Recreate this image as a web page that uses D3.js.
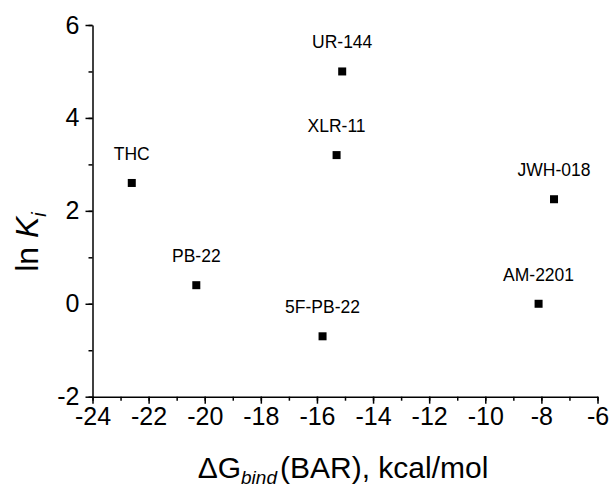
<!DOCTYPE html>
<html>
<head>
    <meta charset="utf-8">
    <title>ln Ki vs dG bind</title>
    <script src="https://d3js.org/d3.v7.min.js"></script>
    <style>
        body { margin: 0; background: #fff; }
        text { font-family: "Liberation Sans", Arial, sans-serif; fill: #000; }
        .axis path, .axis line { stroke: #000; stroke-width: 1.5; }
    </style>
</head>
<body>
    <svg id="plot" width="610" height="488"></svg>

    <script>
        // data
        const compounds = ['THC', 'PB-22', '5F-PB-22', 'XLR-11', 'UR-144', 'AM-2201', 'JWH-018'];
        const dGbind = [-22.6, -20.3, -15.8, -15.3, -15.1, -8.1, -7.55];
        const lnKi = [2.6, 0.4, -0.7, 3.2, 5.0, 0.0, 2.25];
        const xTicks = [-24, -22, -20, -18, -16, -14, -12, -10, -8, -6];
        const yTicks = [-2, 0, 2, 4, 6];

        const svg = d3.select('#plot');

        const xScale = d3.scaleLinear().domain([-24, -6]).range([92.5, 597.5]);
        const yScale = d3.scaleLinear().domain([-2, 6]).range([396.7, 25]);

        // plain hyphen for negatives, like the original
        const fmt = d => String(d);

        // minor ticks first
        svg.append('g')
            .attr('class', 'axis')
            .attr('transform', 'translate(0,' + yScale(-2) + ')')
            .call(d3.axisBottom(xScale).tickValues(d3.range(-24, -5, 1)).tickSize(4).tickFormat(''))
            .call(g => g.select('.domain').remove());

        svg.append('g')
            .attr('class', 'axis')
            .attr('transform', 'translate(' + xScale(-24) + ',0)')
            .call(d3.axisLeft(yScale).tickValues(d3.range(-2, 7, 1)).tickSize(4).tickFormat(''))
            .call(g => g.select('.domain').remove());

        // major ticks + labels
        const xAxis = svg.append('g')
            .attr('class', 'axis')
            .attr('transform', 'translate(0,' + yScale(-2) + ')')
            .call(d3.axisBottom(xScale).tickValues(xTicks).tickFormat(fmt)
                .tickSizeInner(7).tickSizeOuter(0).tickPadding(4));
        xAxis.selectAll('text').style('font-size', '25px');

        const yAxis = svg.append('g')
            .attr('class', 'axis')
            .attr('transform', 'translate(' + xScale(-24) + ',0)')
            .call(d3.axisLeft(yScale).tickValues(yTicks).tickFormat(fmt)
                .tickSizeInner(7).tickSizeOuter(0).tickPadding(6));
        yAxis.selectAll('text').style('font-size', '25px');

        // points
        const pts = compounds.map((c, i) => ({ name: c, x: dGbind[i], y: lnKi[i] }));

        svg.selectAll('rect.pt')
            .data(pts)
            .enter()
            .append('rect')
            .attr('class', 'pt')
            .attr('x', d => xScale(d.x) - 4)
            .attr('y', d => yScale(d.y) - 4)
            .attr('width', 8)
            .attr('height', 8)
            .style('fill', '#000');

        // labels above each point
        svg.selectAll('text.lbl')
            .data(pts)
            .enter()
            .append('text')
            .attr('class', 'lbl')
            .attr('x', d => xScale(d.x))
            .attr('y', d => yScale(d.y) - 23)
            .attr('text-anchor', 'middle')
            .style('font-size', '17.5px')
            .text(d => d.name);

        // x axis title
        const xt = svg.append('text')
            .attr('x', (xScale(-24) + xScale(-6)) / 2 - 2)
            .attr('y', 478)
            .attr('text-anchor', 'middle')
            .style('font-size', '30px');
        xt.append('tspan').text('\u0394G');
        xt.append('tspan').attr('dy', 6).style('font-size', '19px').style('font-style', 'italic').text('bind');
        xt.append('tspan').attr('dy', -6).attr('dx', 3).text('(BAR), kcal/mol');

        // y axis title
        const yt = svg.append('text')
            .attr('transform', 'translate(38,' + 242 + ') rotate(-90)')
            .attr('text-anchor', 'middle')
            .style('font-size', '32px');
        yt.append('tspan').text('ln ');
        yt.append('tspan').style('font-style', 'italic').text('K');
        yt.append('tspan').attr('dy', 8).style('font-size', '20px').style('font-style', 'italic').text('i');
    </script>
</body>
</html>
